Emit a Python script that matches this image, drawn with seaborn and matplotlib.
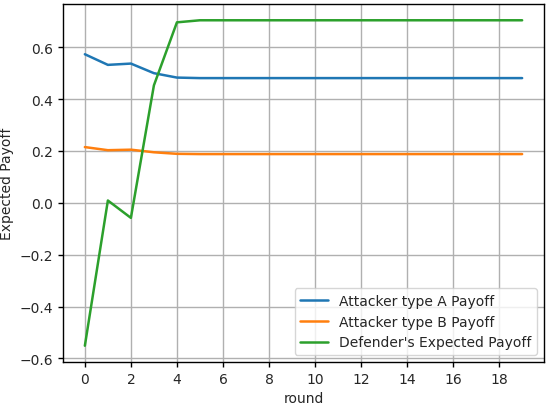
import matplotlib
matplotlib.use("Agg")
import matplotlib.pyplot as plt
import seaborn as sns
import pandas as pd

rounds = list(range(20))
attacker_a = [0.573, 0.532, 0.537, 0.500, 0.483] + [0.481] * 15
attacker_b = [0.215, 0.203, 0.205, 0.195, 0.189] + [0.188] * 15
defender = [-0.551, 0.009, -0.058, 0.453, 0.696] + [0.704] * 15
labels = ["Attacker type A Payoff", "Attacker type B Payoff", "Defender's Expected Payoff"]
colors = ["#1f77b4", "#ff7f0e", "#2ca02c"]

sns.set_style("ticks")
plt.rcParams['font.family'] = ['DejaVu Sans']

fig = plt.figure(figsize=(5.5, 4.06), dpi=100)
ax = fig.add_axes([63/550, 1-363/406, (544-63)/550, (363-5)/406])

for vals, lab, col in zip([attacker_a, attacker_b, defender], labels, colors):
    df = pd.DataFrame({"round": rounds, "v": vals})
    sns.lineplot(data=df, x="round", y="v", ax=ax, label=lab, color=col, linewidth=1.8)

ax.set_xticks(range(0, 19, 2))
ax.set_yticks([-0.6, -0.4, -0.2, 0.0, 0.2, 0.4, 0.6])
ax.set_xlabel("round", fontsize=10)
ax.set_ylabel("Expected Payoff", fontsize=10)
ax.tick_params(labelsize=10, direction="out", length=3.5, width=1.0, color="black")
ax.grid(True, color="#b0b0b0", linewidth=1.0)
for s in ax.spines.values():
    s.set_visible(True)
    s.set_color("black")
    s.set_linewidth(1.0)
leg = ax.legend(loc="lower right", fontsize=10)
for line in leg.get_lines():
    line.set_linewidth(1.8)

fig.savefig("out.png", dpi=100)
